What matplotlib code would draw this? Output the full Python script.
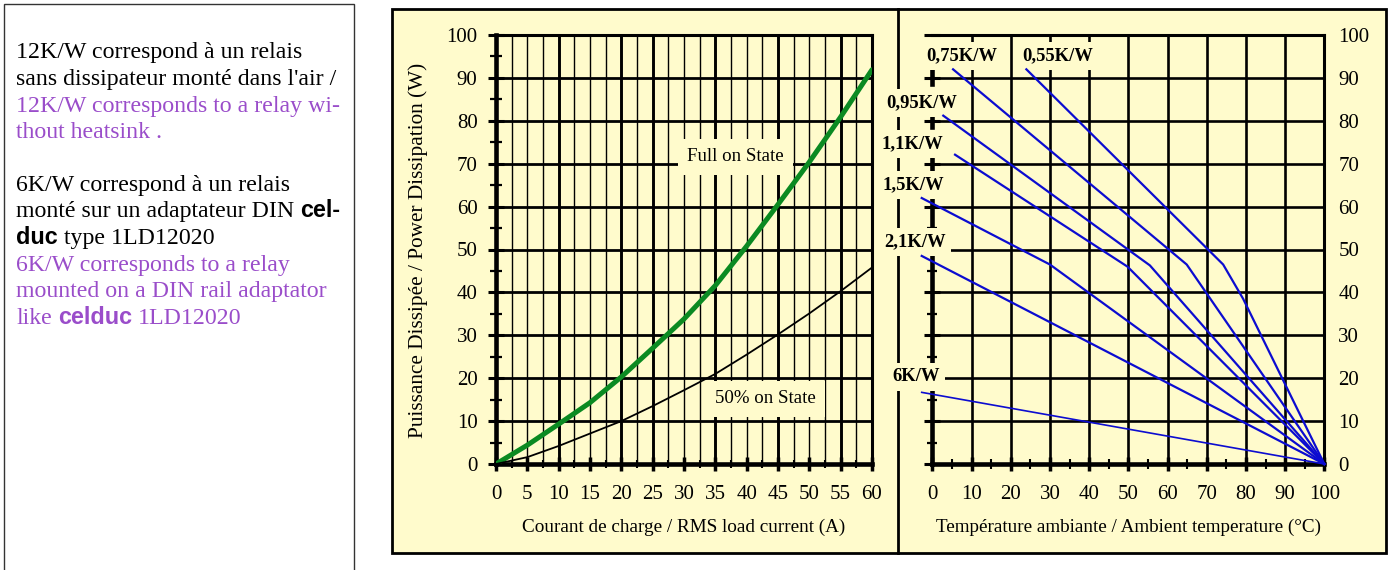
import numpy as np
import matplotlib
matplotlib.use('Agg')
import matplotlib.pyplot as plt
from matplotlib.patches import Rectangle
from matplotlib.lines import Line2D

plt.rcParams['font.family'] = ['Liberation Serif', 'DejaVu Serif']

# Courbes de gauche : puissance dissipée (W) selon le courant de charge (A)
courant = [0, 5, 10, 15, 20, 25, 30, 35, 40, 45, 50, 55, 60]
p_full = [0, 4.4, 9.3, 14.3, 20.3, 27.0, 33.8, 41.6, 50.8, 60.5, 70.4, 80.9, 91.9]
p_half = [0, 1.6, 4.2, 7.1, 10.0, 13.5, 17.2, 21.0, 25.5, 30.2, 35.1, 40.3, 45.8]

# Droites de droite : puissance admissible selon la température ambiante
t_055, p_055 = [24.0, 74.2, 79.3, 100], [92.0, 46.5, 38.5, 0]
t_075, p_075 = [5.3, 64.9, 100], [92.0, 46.5, 0]
t_095, p_095 = [2.8, 55.5, 100], [81.2, 46.3, 0]
t_11, p_11 = [5.8, 49.8, 100], [72.1, 46.0, 0]
t_15, p_15 = [-2.7, 30.0, 100], [62.0, 46.5, 0]
t_21, p_21 = [-2.7, 100], [48.5, 0]
t_6, p_6 = [-2.7, 100], [16.7, 0]
rth_noms = ['0,55K/W', '0,75K/W', '0,95K/W', '1,1K/W', '1,5K/W', '2,1K/W', '6K/W']

W, H = 1390, 570
BG = '#fffbcc'
BLUE = '#0c0cd0'
GREEN = '#0b8a22'
PURPLE = '#9a4dca'
SANS = ['Liberation Sans', 'DejaVu Sans']

fig = plt.figure(figsize=(W / 100, H / 100), dpi=100)
fig.patch.set_facecolor('white')

def fx(px):
    return px / W

def fy(py):
    return 1 - py / H

# cadre jaune + séparation
fig.add_artist(Rectangle((fx(391.5), fy(553)), fx(1386) - fx(391.5), fy(9) - fy(553),
                         transform=fig.transFigure, facecolor=BG, edgecolor='black', lw=2, zorder=-3))
fig.add_artist(Line2D([fx(898), fx(898)], [fy(553), fy(9)], transform=fig.transFigure,
                      color='black', lw=2, zorder=-2))
# cadre du texte à gauche
fig.add_artist(Rectangle((fx(4), fy(580)), fx(354) - fx(4), fy(4) - fy(580),
                         transform=fig.transFigure, facecolor='white', edgecolor='#333333', lw=1, zorder=-3))

# ---------- graphique de gauche ----------
axL = fig.add_axes([fx(496), fy(464), fx(872) - fx(496), fy(35) - fy(464)])
axL.set_facecolor('none')
axL.set_xlim(0, 60)
axL.set_ylim(0, 100)

thick_x = [10, 20, 25, 35, 45, 55]
for x in np.arange(2.5, 60, 2.5):
    axL.axvline(x, color='black', lw=2.1 if x in thick_x else 1.0, zorder=1)
for y in range(10, 100, 10):
    axL.axhline(y, color='black', lw=2.0, zorder=1)

for s in ['left', 'bottom']:
    axL.spines[s].set_linewidth(3.3)
for s in ['top', 'right']:
    axL.spines[s].set_linewidth(2.2)

axL.set_xticks(range(0, 61, 5))
axL.set_xticks(np.arange(2.5, 60, 5), minor=True)
axL.set_yticks(range(0, 101, 10))
axL.set_yticks(range(5, 100, 10), minor=True)
axL.tick_params(axis='x', which='major', direction='inout', length=10, width=2.5, labelsize=15, pad=10)
axL.tick_params(axis='x', which='minor', direction='inout', length=6, width=1.5)
axL.tick_params(axis='y', which='major', direction='inout', length=11.5, width=2.2, labelsize=15, pad=7.5)
axL.tick_params(axis='y', which='minor', direction='inout', length=8.5, width=1.6)

axL.plot(courant, p_full, color=GREEN, lw=3.6, zorder=4, solid_capstyle='round')
axL.plot(courant, p_half, color='black', lw=1.3, zorder=4)

box = dict(boxstyle='square,pad=0.5', facecolor=BG, edgecolor='none')
axL.text(38.2, 71.6, 'Full on State', fontsize=13.6, ha='center', va='center', bbox=box, zorder=3)
axL.text(43.0, 15.2, '50% on State', fontsize=13.6, ha='center', va='center', bbox=box, zorder=3)

axL.set_xlabel('Courant de charge / RMS load current (A)', fontsize=13.8, va='center')
axL.xaxis.set_label_coords((684 - 496) / 376, (464 - 527) / 429)
axL.set_ylabel('Puissance Dissipée / Power Dissipation (W)', fontsize=15.3, va='center')
axL.yaxis.set_label_coords((418 - 496) / 376, (464 - 250) / 429)

# ---------- graphique de droite ----------
axR = fig.add_axes([fx(932.3), fy(464), fx(1324.3) - fx(932.3), fy(35) - fy(464)])
axR.set_facecolor('none')
axR.set_xlim(0, 100)
axR.set_ylim(0, 100)

for x in range(10, 100, 10):
    axR.axvline(x, color='black', lw=1.9, zorder=1)
for y in range(10, 100, 10):
    axR.axhline(y, color='black', lw=1.9, zorder=1)

axR.spines['left'].set_linewidth(3.3)
axR.spines['left'].set_bounds(0, 62)
axR.spines['bottom'].set_linewidth(3.3)
for s in ['top', 'right']:
    axR.spines[s].set_linewidth(2.2)
for y in [70, 80, 90]:
    axR.plot([0, 0], [y - 1.5, y + 1.5], color='black', lw=3.3, zorder=2, clip_on=False)

axR.set_xticks(range(0, 101, 10))
axR.set_xticks(range(5, 100, 10), minor=True)
axR.set_yticks(range(0, 101, 10))
axR.set_yticks(range(5, 100, 10), minor=True)
axR.tick_params(axis='x', which='major', direction='inout', length=10, width=2.5, labelsize=15, pad=10)
axR.tick_params(axis='x', which='minor', direction='inout', length=7, width=1.5)
axR.tick_params(axis='y', which='major', direction='inout', length=12, width=2.2, labelsize=15,
                left=True, right=False, labelleft=False, labelright=True, pad=4)
axR.tick_params(axis='y', which='minor', direction='inout', length=7, width=1.6, left=True, right=False)
axR.set_xlabel('Température ambiante / Ambient temperature (°C)', fontsize=13.75, va='center')
axR.xaxis.set_label_coords((1129 - 932.3) / 392, (464 - 527) / 429)

series = [(t_055, p_055), (t_075, p_075), (t_095, p_095), (t_11, p_11),
          (t_15, p_15), (t_21, p_21), (t_6, p_6)]
for (t, p), nom in zip(series, rth_noms):
    axR.plot(t, p, color=BLUE, lw=1.2 if nom == '6K/W' else 1.6, zorder=4, clip_on=False)

# position des étiquettes (coin gauche, centre vertical)
label_pos = {'0,55K/W': (22.9, 95.1), '0,75K/W': (-1.6, 95.1), '0,95K/W': (-11.8, 84.1),
             '1,1K/W': (-12.9, 74.6), '1,5K/W': (-12.6, 65.0), '2,1K/W': (-12.3, 51.7),
             '6K/W': (-10.3, 20.3)}
lbox = dict(boxstyle='square,pad=0.3', facecolor=BG, edgecolor='none')
for nom in rth_noms:
    x, y = label_pos[nom]
    axR.text(x, y, nom, fontsize=13.4, fontweight='bold', ha='left', va='center',
             bbox=lbox, zorder=3, clip_on=False)

# ---------- texte explicatif ----------
renderer = fig.canvas.get_renderer()
texte = [
    (58, [('12K/W correspond à un relais', 'black', False)]),
    (85, [("sans dissipateur monté dans l'air /", 'black', False)]),
    (112, [('12K/W corresponds to a relay wi-', PURPLE, False)]),
    (138, [('thout heatsink .', PURPLE, False)]),
    (191, [('6K/W correspond à un relais', 'black', False)]),
    (217, [('monté sur un adaptateur DIN', 'black', False), ('cel-', 'black', True)]),
    (244, [('duc', 'black', True), ('type 1LD12020', 'black', False)]),
    (271, [('6K/W corresponds to a relay', PURPLE, False)]),
    (297, [('mounted on a DIN rail adaptator', PURPLE, False)]),
    (324, [('like', PURPLE, False), ('celduc', PURPLE, True), ('1LD12020', PURPLE, False)]),
]
fs_txt = 17.2
espace = 0.25 * fs_txt * 100 / 72
for y, parts in texte:
    x = 16
    for chaine, couleur, gras in parts:
        if gras:
            t = fig.text(fx(x), fy(y), chaine, color=couleur, family=SANS, fontweight='bold',
                         fontsize=16.8, va='baseline', ha='left')
        else:
            t = fig.text(fx(x), fy(y), chaine, color=couleur, fontsize=fs_txt, va='baseline', ha='left')
        x = t.get_window_extent(renderer).x1 + espace

fig.savefig('out.png', dpi=100, facecolor='white')
